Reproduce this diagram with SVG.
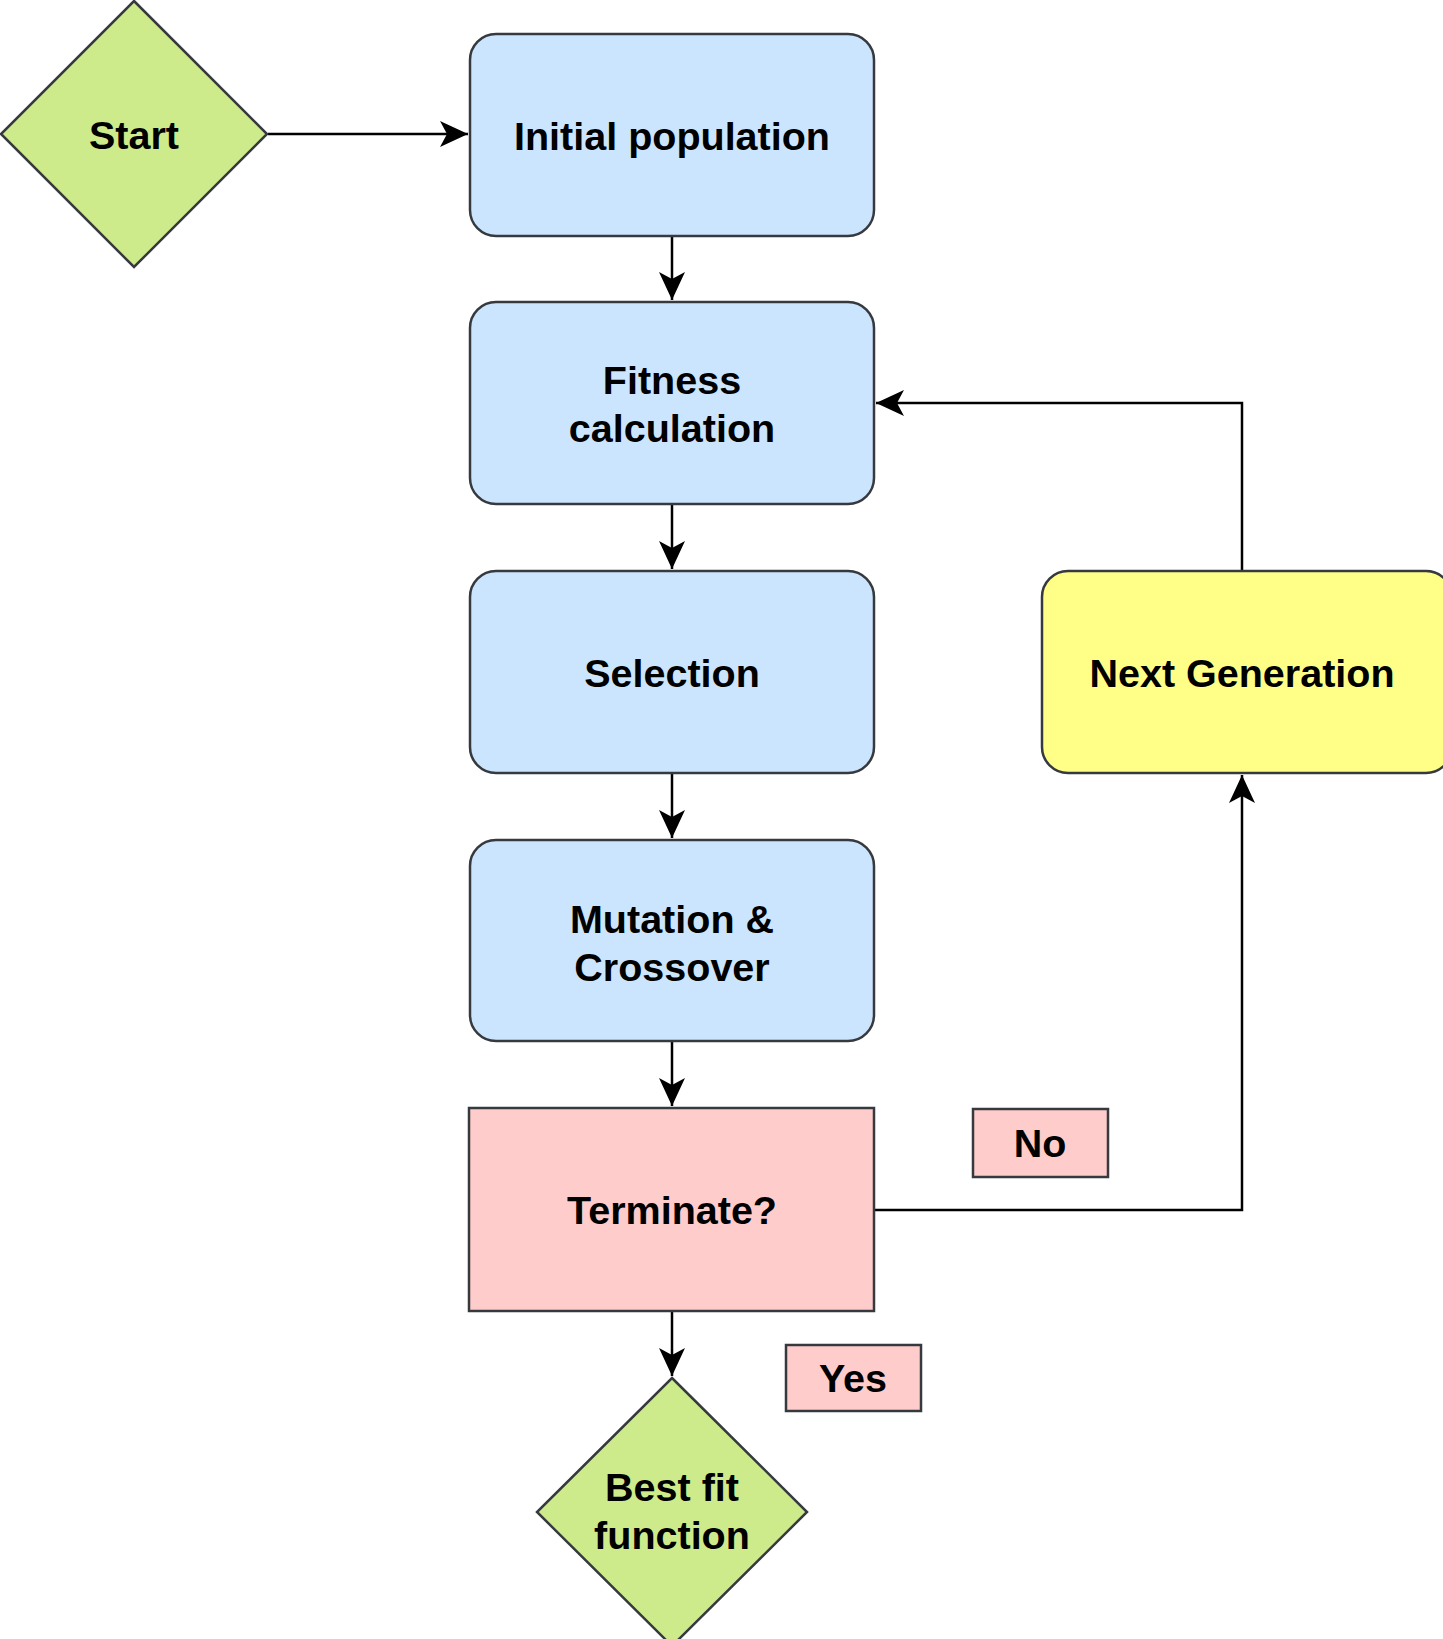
<svg xmlns="http://www.w3.org/2000/svg" width="1443" height="1639" viewBox="0 0 1443 1639">
<style>
.blue{fill:#cce5ff;stroke:#36393d;stroke-width:2.5}
.green{fill:#cdeb8b;stroke:#36393d;stroke-width:2.5}
.yellow{fill:#ffff88;stroke:#36393d;stroke-width:2.5}
.pink{fill:#ffcccc;stroke:#36393d;stroke-width:2.5}
.lbl{font-family:"Liberation Sans",Arial,sans-serif;font-weight:bold;font-size:39.5px;fill:#000;text-anchor:middle}
.edge{fill:none;stroke:#000;stroke-width:2.5}
</style>
<defs>
<marker id="arr" markerUnits="userSpaceOnUse" markerWidth="32" markerHeight="30" refX="28" refY="13" orient="auto">
<path d="M0,0 L28,13 L0,26 L7,13 Z" fill="#000"/>
</marker>
</defs>
<rect width="1443" height="1639" fill="#fff"/>
<g id="connectors">
<path class="edge" d="M268,134 L468,134" marker-end="url(#arr)"/>
<path class="edge" d="M672,236 L672,300" marker-end="url(#arr)"/>
<path class="edge" d="M672,504 L672,569" marker-end="url(#arr)"/>
<path class="edge" d="M672,773 L672,838" marker-end="url(#arr)"/>
<path class="edge" d="M672,1041 L672,1106" marker-end="url(#arr)"/>
<path class="edge" d="M672,1311 L672,1376" marker-end="url(#arr)"/>
<path class="edge" d="M874,1210 L1242,1210 L1242,775" marker-end="url(#arr)"/>
<path class="edge" d="M1242,571 L1242,403 L876,403" marker-end="url(#arr)"/>
</g>
<g id="start">
<polygon class="green" points="134,1 267,134 134,267 1,134"/>
<text class="lbl" x="134" y="149">Start</text>
</g>
<g id="initial-population">
<rect class="blue" x="470" y="34" width="404" height="202" rx="26"/>
<text class="lbl" x="672" y="150">Initial population</text>
</g>
<g id="fitness-calculation">
<rect class="blue" x="470" y="302" width="404" height="202" rx="26"/>
<text class="lbl" x="672" y="394">Fitness</text>
<text class="lbl" x="672" y="442">calculation</text>
</g>
<g id="selection">
<rect class="blue" x="470" y="571" width="404" height="202" rx="26"/>
<text class="lbl" x="672" y="687">Selection</text>
</g>
<g id="mutation-crossover">
<rect class="blue" x="470" y="840" width="404" height="201" rx="26"/>
<text class="lbl" x="672" y="933">Mutation &amp;</text>
<text class="lbl" x="672" y="981">Crossover</text>
</g>
<g id="terminate">
<rect class="pink" x="469" y="1108" width="405" height="203"/>
<text class="lbl" x="672" y="1224">Terminate?</text>
</g>
<g id="no-label">
<rect class="pink" x="973" y="1109" width="135" height="68"/>
<text class="lbl" x="1040" y="1157">No</text>
</g>
<g id="yes-label">
<rect class="pink" x="786" y="1345" width="135" height="66"/>
<text class="lbl" x="853" y="1392">Yes</text>
</g>
<g id="next-generation">
<rect class="yellow" x="1042" y="571" width="410" height="202" rx="26"/>
<text class="lbl" x="1242" y="687">Next Generation</text>
</g>
<g id="best-fit-function">
<polygon class="green" points="672,1378 807,1512 672,1646 537,1512"/>
<text class="lbl" x="672" y="1501">Best fit</text>
<text class="lbl" x="672" y="1549">function</text>
</g>
</svg>
